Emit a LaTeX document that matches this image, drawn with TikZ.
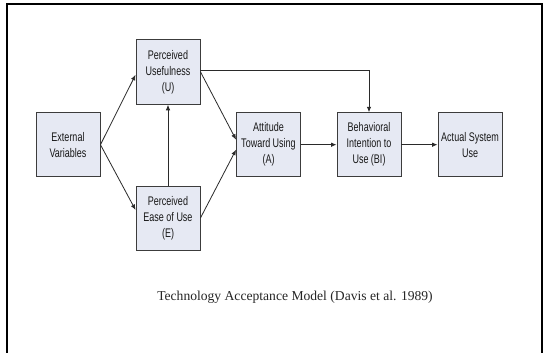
\documentclass[tikz,border=0pt]{standalone}
\usepackage{fontspec}
\setmainfont{Liberation Serif}
\newfontfamily\boxfont[FakeStretch=0.72]{Liberation Sans}
\usetikzlibrary{arrows.meta,calc}
\definecolor{boxfill}{HTML}{E6E9F3}
\definecolor{boxline}{HTML}{3C3C3C}
\definecolor{arrowline}{HTML}{2A2A2A}
\tikzset{
  tambox/.style={draw=boxline, line width=0.9pt, fill=boxfill, minimum width=64pt, minimum height=64pt,
    inner sep=1pt, align=center, text=black!90, font=\boxfont\fontsize{12.5}{16}\selectfont},
  conn/.style={draw=arrowline, line width=0.8pt, -{Latex[length=5.5pt,width=4.5pt]}},
  frameline/.style={line width=2pt, black}
}
\begin{document}
\begin{tikzpicture}[x=1pt,y=-1pt]
\useasboundingbox (0,0) rectangle (543,353);
\fill[white] (0,0) rectangle (543,353);
% frame
\draw[frameline] (7,353) -- (7,4) -- (543,4);
\draw[frameline] (542,4) -- (542,353);
% nodes
\node[tambox] (ev) at (68,144.7) {External\\Variables};
\node[tambox, minimum height=65pt] (pu) at (168,71.8) {Perceived\\Usefulness\\(U)};
\node[tambox] (pe) at (168,218) {Perceived\\Ease of Use\\(E)};
\node[tambox] (at) at (268.5,144.7) {Attitude\\Toward Using\\(A)};
\node[tambox] (bi) at (369,144.7) {Behavioral\\Intention to\\Use (BI)};
\node[tambox] (as) at (470,144.7) {Actual System\\Use};
\node[font=\fontsize{13.6}{16}\selectfont, text=black!85] (cap) at (295,297.7) {Technology Acceptance Model (Davis et al. 1989)};
% connectors
\draw[conn] (ev.east) -- ([yshift=-3pt]pu.west);
\draw[conn] (ev.east) -- ([yshift=8pt]pe.west);
\draw[conn] (pe.north) -- (pu.south);
\draw[conn] (pu.east) -- ([yshift=5pt]at.west);
\draw[conn] (pe.east) -- ([yshift=-5pt]at.west);
\draw[conn] ([yshift=1pt]pu.east) -| (bi.north);
\draw[conn] (at.east) -- (bi.west);
\draw[conn] (bi.east) -- (as.west);
\end{tikzpicture}
\end{document}
